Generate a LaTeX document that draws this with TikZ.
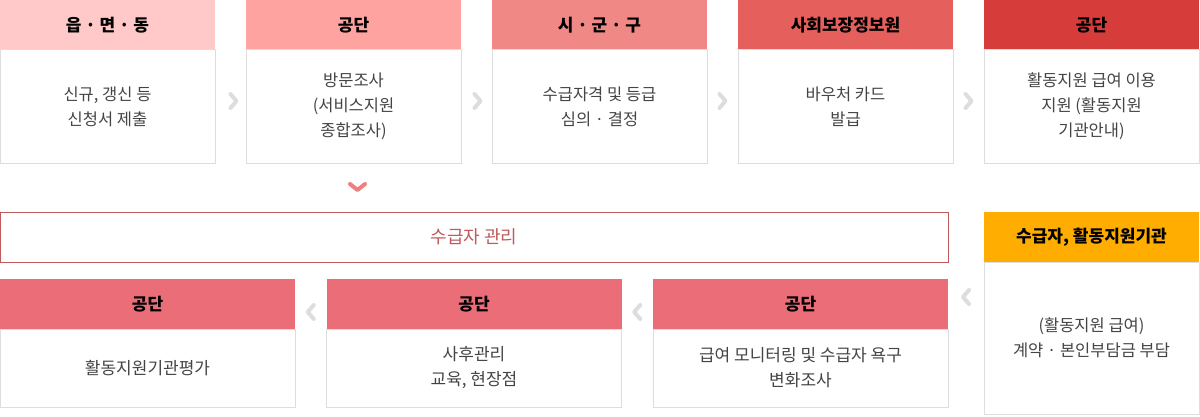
\documentclass[tikz,border=0pt]{standalone}
\usepackage{fontspec}
\setmainfont{Noto Sans CJK KR}
\usepackage{xcolor}
\usetikzlibrary{positioning, calc}

\definecolor{headA}{HTML}{FFC9C9}
\definecolor{headB}{HTML}{FFA3A0}
\definecolor{headC}{HTML}{F08886}
\definecolor{headD}{HTML}{E55F5D}
\definecolor{headE}{HTML}{D63C3A}
\definecolor{headLow}{HTML}{EB6D78}
\definecolor{headYellow}{HTML}{FFAD00}
\definecolor{barRed}{HTML}{C0595C}
\definecolor{bodyText}{HTML}{444444}
\definecolor{boxLine}{HTML}{DDDDDD}
\definecolor{chevGray}{HTML}{DDDDDD}
\definecolor{chevPink}{HTML}{F07F80}

\begin{document}
\begin{tikzpicture}[
        x=1pt, y=1pt,
        head/.style={rectangle, minimum width=215pt, minimum height=50pt, inner sep=0pt, outer sep=0pt, font=\fontsize{17}{20}\selectfont\bfseries},
        body/.style={rectangle, draw=boxLine, line width=1pt, minimum width=215pt, minimum height=113pt, inner sep=0pt, outer sep=0pt, align=center, text=bodyText, font=\fontsize{16.5}{25}\selectfont},
        lowbody/.style={body, minimum width=295pt, minimum height=78pt, font=\fontsize{17}{25}\selectfont},
        bar/.style={rectangle, draw=barRed, line width=1pt, minimum width=948pt, minimum height=50pt, inner sep=0pt, outer sep=0pt, text=barRed, font=\fontsize{18}{20}\selectfont},
        chev/.style={draw=chevGray, line width=4pt, line cap=round, line join=round},
        chevdown/.style={chev, draw=chevPink}
    ]
        \useasboundingbox (0,0) rectangle (1200,416);

        % Top row
        \node[head, fill=headA] (h1) at (107.5,391) {읍 · 면 · 동};
        \node[body, below=0pt of h1] (b1) {신규, 갱신 등\\신청서 제출};
        \node[head, fill=headB, right=31pt of h1] (h2) {공단};
        \node[body, below=0pt of h2] (b2) {방문조사\\(서비스지원\\종합조사)};
        \node[head, fill=headC, right=31pt of h2] (h3) {시 · 군 · 구};
        \node[body, below=0pt of h3] (b3) {수급자격 및 등급\\심의 · 결정};
        \node[head, fill=headD, right=31pt of h3] (h4) {사회보장정보원};
        \node[body, below=0pt of h4] (b4) {바우처 카드\\발급};
        \node[head, fill=headE, right=31pt of h4] (h5) {공단};
        \node[body, below=0pt of h5] (b5) {활동지원 급여 이용\\지원 (활동지원\\기관안내)};

        % Management bar and contract box
        \node[bar, below=49pt of b1.south west, anchor=north west] (mgmt) {수급자 관리};
        \node[head, fill=headYellow, right=36pt of mgmt] (h6) {수급자, 활동지원기관};
        \node[body, minimum height=152pt, below=0pt of h6] (b6) {(활동지원 급여)\\계약 · 본인부담금 부담};

        % Bottom row
        \node[head, fill=headLow, minimum width=295pt, below=17pt of mgmt.south west, anchor=north west] (h7) {공단};
        \node[lowbody, below=0pt of h7] (b7) {활동지원기관평가};
        \node[head, fill=headLow, minimum width=295pt, right=31.5pt of h7] (h8) {공단};
        \node[lowbody, below=0pt of h8] (b8) {사후관리\\교육, 현장점};
        \node[head, fill=headLow, minimum width=295pt, right=31.5pt of h8] (h9) {공단};
        \node[lowbody, below=0pt of h9] (b9) {급여 모니터링 및 수급자 욕구\\변화조사};

        % Chevrons
        \draw[chev] ($(b1.east)!0.5!(b2.west)+(0,12.5)$) -- ++(6,-7) -- ++(-6,-7);
        \draw[chev] ($(b2.east)!0.5!(b3.west)+(-2,12.5)$) -- ++(6,-7) -- ++(-6,-7);
        \draw[chev] ($(b3.east)!0.5!(b4.west)+(-3,12.5)$) -- ++(6,-7) -- ++(-6,-7);
        \draw[chev] ($(b4.east)!0.5!(b5.west)+(-3,12.5)$) -- ++(6,-7) -- ++(-6,-7);
        \draw[chevdown] ($(b2.south)+(-3.5,-21)$) -- ++(7.5,-6) -- ++(7.5,6);
        \draw[chev] ($(b7.east)!0.5!(b8.west)+(3,63)$) -- ++(-6,-7) -- ++(6,-7);
        \draw[chev] ($(b8.east)!0.5!(b9.west)+(3,63)$) -- ++(-6,-7) -- ++(6,-7);
        \draw[chev] ($(b9.east)!0.5!(b6.west)+(3,63)$) -- ++(-6,-7) -- ++(6,-7);

    \end{tikzpicture}
\end{document}
